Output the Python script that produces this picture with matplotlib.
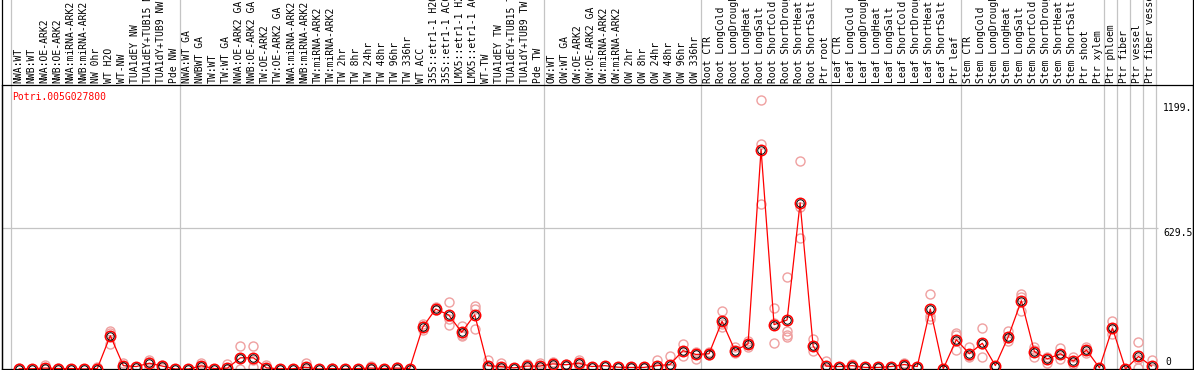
import matplotlib
matplotlib.use("Agg")
import matplotlib.pyplot as plt
import matplotlib.transforms as mtransforms
from matplotlib.lines import Line2D

GENE = "Potri.005G027800"

SAMPLES = [
    # group 1
    "NWA:WT", "NWB:WT", "NWA:OE-ARK2", "NWB:OE-ARK2", "NWA:miRNA-ARK2",
    "NWB:miRNA-ARK2", "NW 0hr", "WT H2O", "WT-NW", "TUA1dEY NW",
    "TUA1dEY+TUB15 NW", "TUA1dY+TUB9 NW", "Pde NW",
    # group 2
    "NWA:WT GA", "NWBWT GA", "TW:WT", "TW:WT GA", "NWA:OE-ARK2 GA",
    "NWB:OE-ARK2 GA", "TW:OE-ARK2", "TW:OE-ARK2 GA", "NWA:miRNA-ARK2",
    "NWB:miRNA-ARK2", "TW:miRNA-ARK2", "TW:miRNA-ARK2", "TW 2hr", "TW 8hr",
    "TW 24hr", "TW 48hr", "TW 96hr", "TW 336hr", "WT ACC",
    "35S::etr1-1 H2O", "35S::etr1-1 ACC", "LMX5::etr1-1 H2O",
    "LMX5::etr1-1 ACC", "WT-TW", "TUA1dEY TW", "TUA1dEY+TUB15 TW",
    "TUA1dY+TUB9 TW", "Pde TW",
    # group 3
    "OW:WT", "OW:WT GA", "OW:OE-ARK2", "OW:OE-ARK2 GA", "OW:miRNA-ARK2",
    "OW:miRNA-ARK2", "OW 2hr", "OW 8hr", "OW 24hr", "OW 48hr", "OW 96hr",
    "OW 336hr",
    # root
    "Root CTR", "Root LongCold", "Root LongDrought", "Root LongHeat",
    "Root LongSalt", "Root ShortCold", "Root ShortDrought", "Root ShortHeat",
    "Root ShortSalt", "Ptr root",
    # leaf
    "Leaf CTR", "Leaf LongCold", "Leaf LongDrought", "Leaf LongHeat",
    "Leaf LongSalt", "Leaf ShortCold", "Leaf ShortDrought", "Leaf ShortHeat",
    "Leaf ShortSalt", "Ptr leaf",
    # stem
    "Stem CTR", "Stem LongCold", "Stem LongDrought", "Stem LongHeat",
    "Stem LongSalt", "Stem ShortCold", "Stem ShortDrought", "Stem ShortHeat",
    "Stem ShortSalt", "Ptr shoot", "Ptr xylem",
    "Ptr phloem", "Ptr fiber", "Ptr vessel", "Ptr fiber vessel",
]

# number of samples in each block (separated by grey lines)
GROUP_SIZES = [13, 28, 12, 10, 10, 11, 1, 1, 1, 1]

MEANS = [
    1, 1, 4, 2, 2, 0, 2, 149, 15, 11, 26, 13, 0,
    0, 14, 2, 4, 50, 50, 5, 1, 1, 8, 0, 2, 0, 2, 4, 2, 4, 2,
    186, 268, 241, 164, 242, 15, 11, 5, 13, 13,
    23, 19, 26, 11, 15, 8, 7, 7, 15, 20, 82, 65,
    68, 213, 82, 112, 980, 198, 219, 742, 103, 13,
    11, 15, 7, 7, 11, 20, 11, 268, 1, 131,
    68, 115, 15, 145, 305, 78, 45, 68, 35, 85, 5,
    183, 0, 56, 13,
]

REPLICATES = [
    [1, 3], [1, 2], [19, 0, 0], [2, 3], [2, 1], [0, 0], [11, 0, 0],
    [168, 161, 112], [26, 10, 8], [11, 10], [42, 30, 5], [13, 20, 5], [0, 0],
    [0, 0], [26, 14, 2], [2, 1], [22, 2, 0], [104, 50, 0], [103, 40, 7],
    [19, 2, 0], [1, 2], [1, 0], [26, 5, 0], [0, 0], [2, 3], [0, 0], [2, 1],
    [13, 2, 0], [2, 1], [10, 2, 0], [2, 0], [200, 190, 175],
    [275, 265, 262], [299, 223, 197], [192, 160, 146, 150], [282, 268, 180],
    [38, 8, 0], [29, 5, 0], [5, 4], [22, 13, 5], [26, 10, 5],
    [33, 22, 15], [19, 22, 15], [38, 25, 15], [11, 10], [15, 12], [8, 10],
    [7, 5], [10, 7, 4], [38, 8, 0], [56, 5, 0], [112, 82, 56], [77, 65, 46],
    [75, 68, 62], [260, 200, 187], [97, 80, 72], [125, 112, 100],
    [1199, 1006, 735], [272, 205, 117], [411, 170, 154, 142],
    [928, 725, 584], [133, 103, 81], [35, 5, 0],
    [11, 10], [22, 15, 8], [7, 5], [7, 5], [11, 10], [25, 20, 15], [11, 10],
    [334, 238, 223], [1, 0], [160, 150, 85],
    [97, 60, 53], [183, 110, 53], [15, 12], [171, 140, 127], [334, 320, 260],
    [97, 85, 53], [55, 50, 26], [93, 66, 45], [53, 30, 22], [100, 85, 70],
    [5, 3],
    [216, 183, 156], [0, 0], [119, 45, 3], [41, 0, 0],
]

Y_MAX = 1268
Y_LABELS = ["1199.", "629.5", "0"]
Y_LABEL_VALUES = [1199, 629.5, 0]

RED = "#ff0000"
PINK = "#ef a0a0".replace(" ", "")
GREY = "#c4c4c4"
FONT = "DejaVu Sans Mono"

W, H = 1194, 370
fig = plt.figure(figsize=(W / 100, H / 100), dpi=100)
# plot area in pixels: x 1.5..1193, y 85..369
ax = fig.add_axes([1.5 / W, 1 - 369 / H, (1193 - 1.5) / W, (369 - 85) / H])
x_left = (1.5 - 19.2) / 13.015
x_right = (1193 - 19.2) / 13.015
ax.set_xlim(x_left, x_right)
ax.set_ylim(0, Y_MAX)
ax.set_xticks([])
ax.set_yticks([])
for s in ax.spines.values():
    s.set_color("black")
    s.set_linewidth(0.9)

xs = list(range(len(SAMPLES)))
head = mtransforms.blended_transform_factory(ax.transData, ax.transAxes)
top_ext = 1 + 85 / 284

# group separators, running through the header too
bounds = [0]
for g in GROUP_SIZES:
    bounds.append(bounds[-1] + g)
for b in bounds:
    ax.add_line(Line2D([b - 0.65, b - 0.65], [0, top_ext], transform=head,
                       color=GREY, lw=0.9, clip_on=False, zorder=1))

# middle grid line
ax.hlines(629.5, x_left, bounds[-1] - 0.5, color=GREY, lw=0.9, zorder=1)

# header frame
fig.add_artist(Line2D([1.5 / W, 1.5 / W], [0, 1], color="black", lw=0.9))
fig.add_artist(Line2D([1193 / W, 1193 / W], [0, 1], color="black", lw=0.9))

# sample labels
for i, name in enumerate(SAMPLES):
    ax.text(i - 0.1, 1 + 2 / 284, name, transform=head, rotation=90,
            ha="center", va="bottom", fontsize=7, family=FONT,
            clip_on=False)

# replicates
for i, reps in enumerate(REPLICATES):
    ax.plot([i] * len(reps), reps, linestyle="none", marker="o", ms=6.5,
            mfc="none", mec=PINK, mew=1.0, zorder=2, clip_on=False)

# mean line and markers
ax.plot(xs, MEANS, color=RED, lw=0.9, zorder=3)
ax.plot(xs, MEANS, linestyle="none", marker="o", ms=7.5, mfc="none",
        mec=RED, mew=1.1, zorder=4)
ax.plot(xs, MEANS, linestyle="none", marker="o", ms=5.4, mfc="none",
        mec="black", mew=0.7, zorder=5)

# scale labels on the right
ax.text(87.9, Y_LABEL_VALUES[0] - 10, Y_LABELS[0], ha="left", va="top",
        fontsize=7, family=FONT)
ax.text(87.9, Y_LABEL_VALUES[1], Y_LABELS[1], ha="left", va="top",
        fontsize=7, family=FONT)
ax.text(88.1, Y_LABEL_VALUES[2] + 8, Y_LABELS[2], ha="left", va="bottom",
        fontsize=7, family=FONT)

# gene name
ax.text(x_left + 0.8, 1 - 7 / 284, GENE, transform=head, ha="left", va="top",
        color=RED, fontsize=7, family=FONT)

fig.savefig("out.png", dpi=100)
